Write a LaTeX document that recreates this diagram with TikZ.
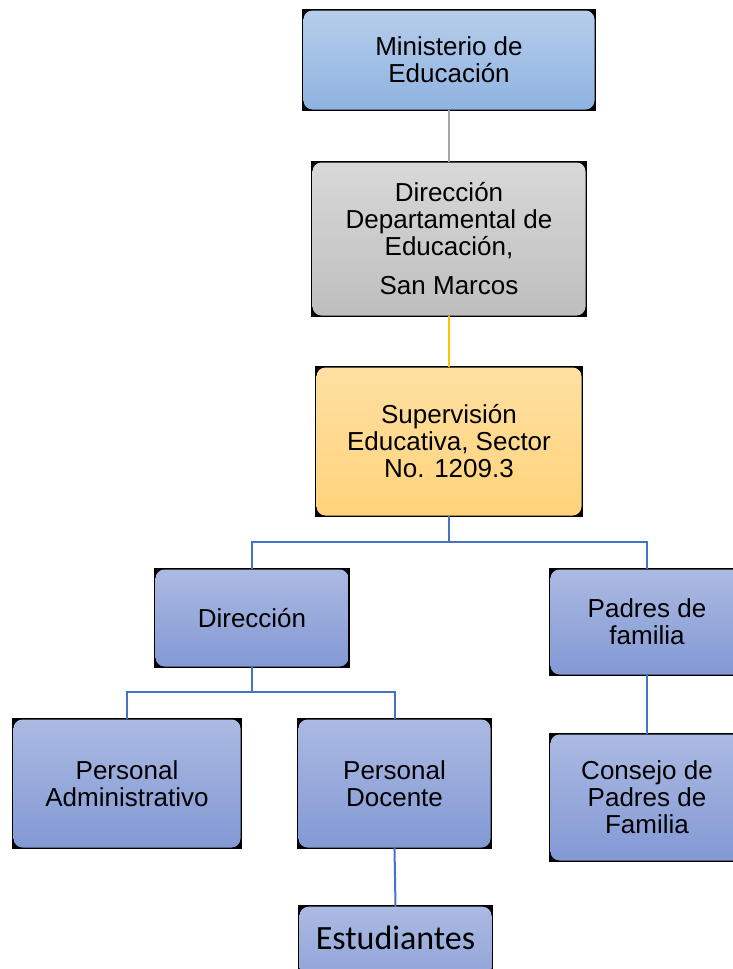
\documentclass[tikz,border=0pt]{standalone}
\usepackage{fontspec}
\setmainfont{Liberation Sans}
\newfontfamily\calib{Carlito}
\usetikzlibrary{backgrounds,calc}
\definecolor{mtop}{HTML}{B7CDEB}
\definecolor{mbot}{HTML}{8EB3E0}
\definecolor{gtop}{HTML}{D8D8D8}
\definecolor{gbot}{HTML}{BEBEBE}
\definecolor{ytop}{HTML}{FFE0A2}
\definecolor{ybot}{HTML}{FFD37A}
\definecolor{ptop}{HTML}{ABBAE2}
\definecolor{pbot}{HTML}{8399D5}
\definecolor{lgray}{HTML}{A5A5A5}
\definecolor{lyel}{HTML}{FFC000}
\definecolor{lblue}{HTML}{4472C4}
\tikzset{
  orgbox/.style={rounded corners=9pt, align=center, inner sep=2pt,
    font=\fontsize{26}{27}\selectfont, text=black},
  mbox/.style={orgbox, top color=mtop, bottom color=mbot},
  gbox/.style={orgbox, top color=gtop, bottom color=gbot},
  ybox/.style={orgbox, top color=ytop, bottom color=ybot},
  pbox/.style={orgbox, top color=ptop, bottom color=pbot},
  conn/.style={line width=2pt},
}
\newcommand\blackback[1]{\fill[black] ($(#1.north west)+(-1.5,-1.5)$) rectangle ($(#1.south east)+(1.5,1.5)$);}
\begin{document}
\begin{tikzpicture}[x=1pt,y=-1pt]
\useasboundingbox (0,0) rectangle (733,969);
\node[mbox, minimum width=291, minimum height=99] (m) at (449,60) {Ministerio de\\Educación};
\node[gbox, minimum width=273, minimum height=153] (d) at (449,239) {Dirección\\Departamental de\\Educación,\\[12pt]San Marcos};
\node[ybox, minimum width=265, minimum height=148] (s) at (449,441.5) {Supervisión\\Educativa, Sector\\No. 1209.3};
\node[pbox, minimum width=193, minimum height=97] (dir) at (252,618) {Dirección};
\node[pbox, minimum width=193, minimum height=105] (pf) at (647,622) {Padres de\\familia};
\node[pbox, minimum width=227, minimum height=128] (pa) at (127,783.5) {Personal\\Administrativo};
\node[pbox, minimum width=192, minimum height=128] (pd) at (394.5,783.5) {Personal\\Docente};
\node[pbox, minimum width=193, minimum height=126] (cp) at (647,797.5) {Consejo de\\Padres de\\Familia};
\node[pbox, minimum width=192, minimum height=110, anchor=north] (est) at (395.5,906.5) {};
\node[font=\calib\fontsize{34}{36}\selectfont, inner sep=0pt] (estt) at (395.5,938) {Estudiantes};
\begin{scope}[on background layer]
\blackback{m}\blackback{d}\blackback{s}\blackback{dir}\blackback{pf}
\blackback{pa}\blackback{pd}\blackback{cp}\blackback{est}
\draw[conn, lgray] (m.south) -- (d.north);
\draw[conn, lyel] (d.south) -- (s.north);
\draw[conn, lblue] (s.south) -- ++(0,26) coordinate (j1);
\draw[conn, lblue] (j1) -| (dir.north);
\draw[conn, lblue] (j1) -| (pf.north);
\draw[conn, lblue] (dir.south) -- ++(0,25) coordinate (j2);
\draw[conn, lblue] (j2) -| (pa.north);
\draw[conn, lblue] (j2) -| (pd.north);
\draw[conn, lblue] (pd.south) -- (est.north);
\draw[conn, lblue] (pf.south) -- (cp.north);
\end{scope}
\end{tikzpicture}
\end{document}
